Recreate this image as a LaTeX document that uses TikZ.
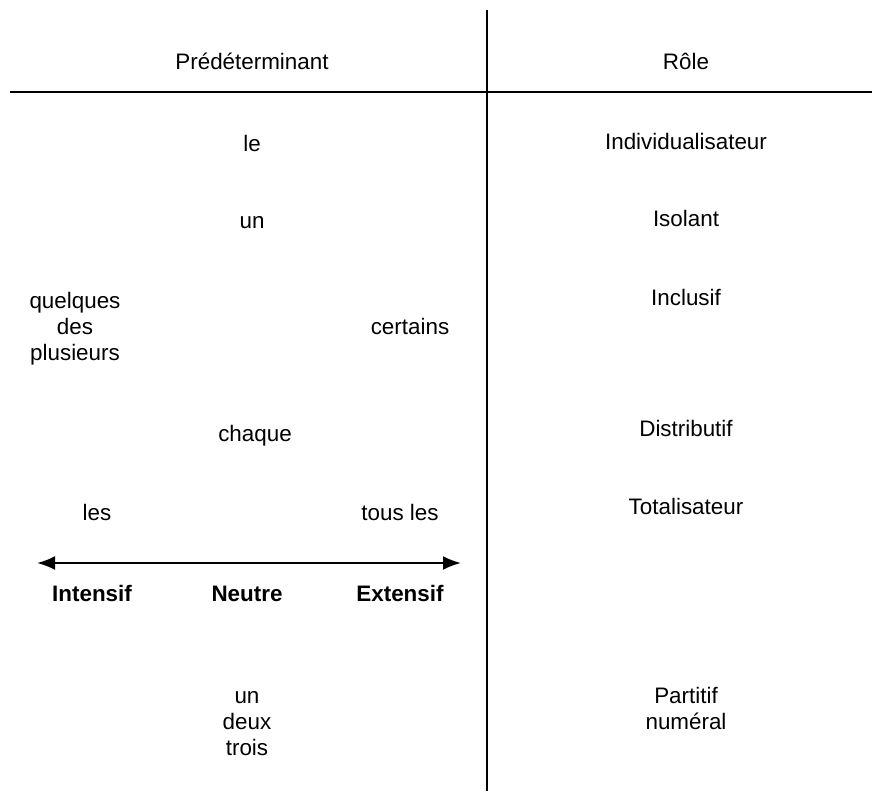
\documentclass[tikz,border=0pt]{standalone}
\usepackage{fontspec}
\setmainfont{Liberation Sans}
\usetikzlibrary{arrows.meta}
\begin{document}
\begin{tikzpicture}
	[
	x = {(0.5pt, 0pt)},
	y = {(0pt, -0.5pt)},
	rule/.style = {color = black, line width = 0.75pt},
	scaleline/.style = {color = black, line width = 1.1pt, {Latex[length = 9pt, width = 7pt]}-{Latex[length = 9pt, width = 7pt]}},
	word/.style = {anchor = base, inner sep = 0pt, font = \fontsize{11.2}{13}\selectfont, align = center},
	pole/.style = {word, font = \fontsize{11.2}{13}\selectfont\bfseries}]
	
	\useasboundingbox (0, 0) rectangle (872, 793);
	
	%% Drawing the table rules
	
	\coordinate (top) at (487, 10);
	\coordinate (bottom) at (487, 791);
	\coordinate (left) at (10, 92);
	\coordinate (right) at (872, 92);
	\draw[rule] (top) -- (bottom);
	\draw[rule] (left) -- (right);
	
	%% Headers
	
	\node[word] (predet) at (252, 69) {Prédéterminant};
	\node[word] (role) at (686, 69) {Rôle};
	
	%% Left column (base of a block = its last line)
	
	\node[word] (le) at (252, 151) {le};
	\node[word] (un) at (252, 228) {un};
	\node[word] (quelques) at (75, 360) {quelques\\des\\plusieurs};
	\node[word] (certains) at (410, 334) {certains};
	\node[word] (chaque) at (255, 441) {chaque};
	\node[word] (les) at (97, 520) {les};
	\node[word] (tousles) at (400, 520) {tous les};
	
	% scale of the predeterminants
	\coordinate (intensive) at (37, 563);
	\coordinate (extensive) at (461, 563);
	\draw[scaleline] (intensive) -- (extensive);
	
	\node[pole] (intensif) at (92, 601) {Intensif};
	\node[pole] (neutre) at (247, 601) {Neutre};
	\node[pole] (extensif) at (400, 601) {Extensif};
	
	\node[word] (numeraux) at (247, 755) {un\\deux\\trois};
	
	%% Right column
	
	\node[word] (individ) at (686, 149) {Individualisateur};
	\node[word] (isolant) at (686, 226) {Isolant};
	\node[word] (inclusif) at (686, 305) {Inclusif};
	\node[word] (distrib) at (686, 436) {Distributif};
	\node[word] (totalis) at (686, 514) {Totalisateur};
	\node[word] (partitif) at (686, 729) {Partitif\\numéral};
\end{tikzpicture}
\end{document}
